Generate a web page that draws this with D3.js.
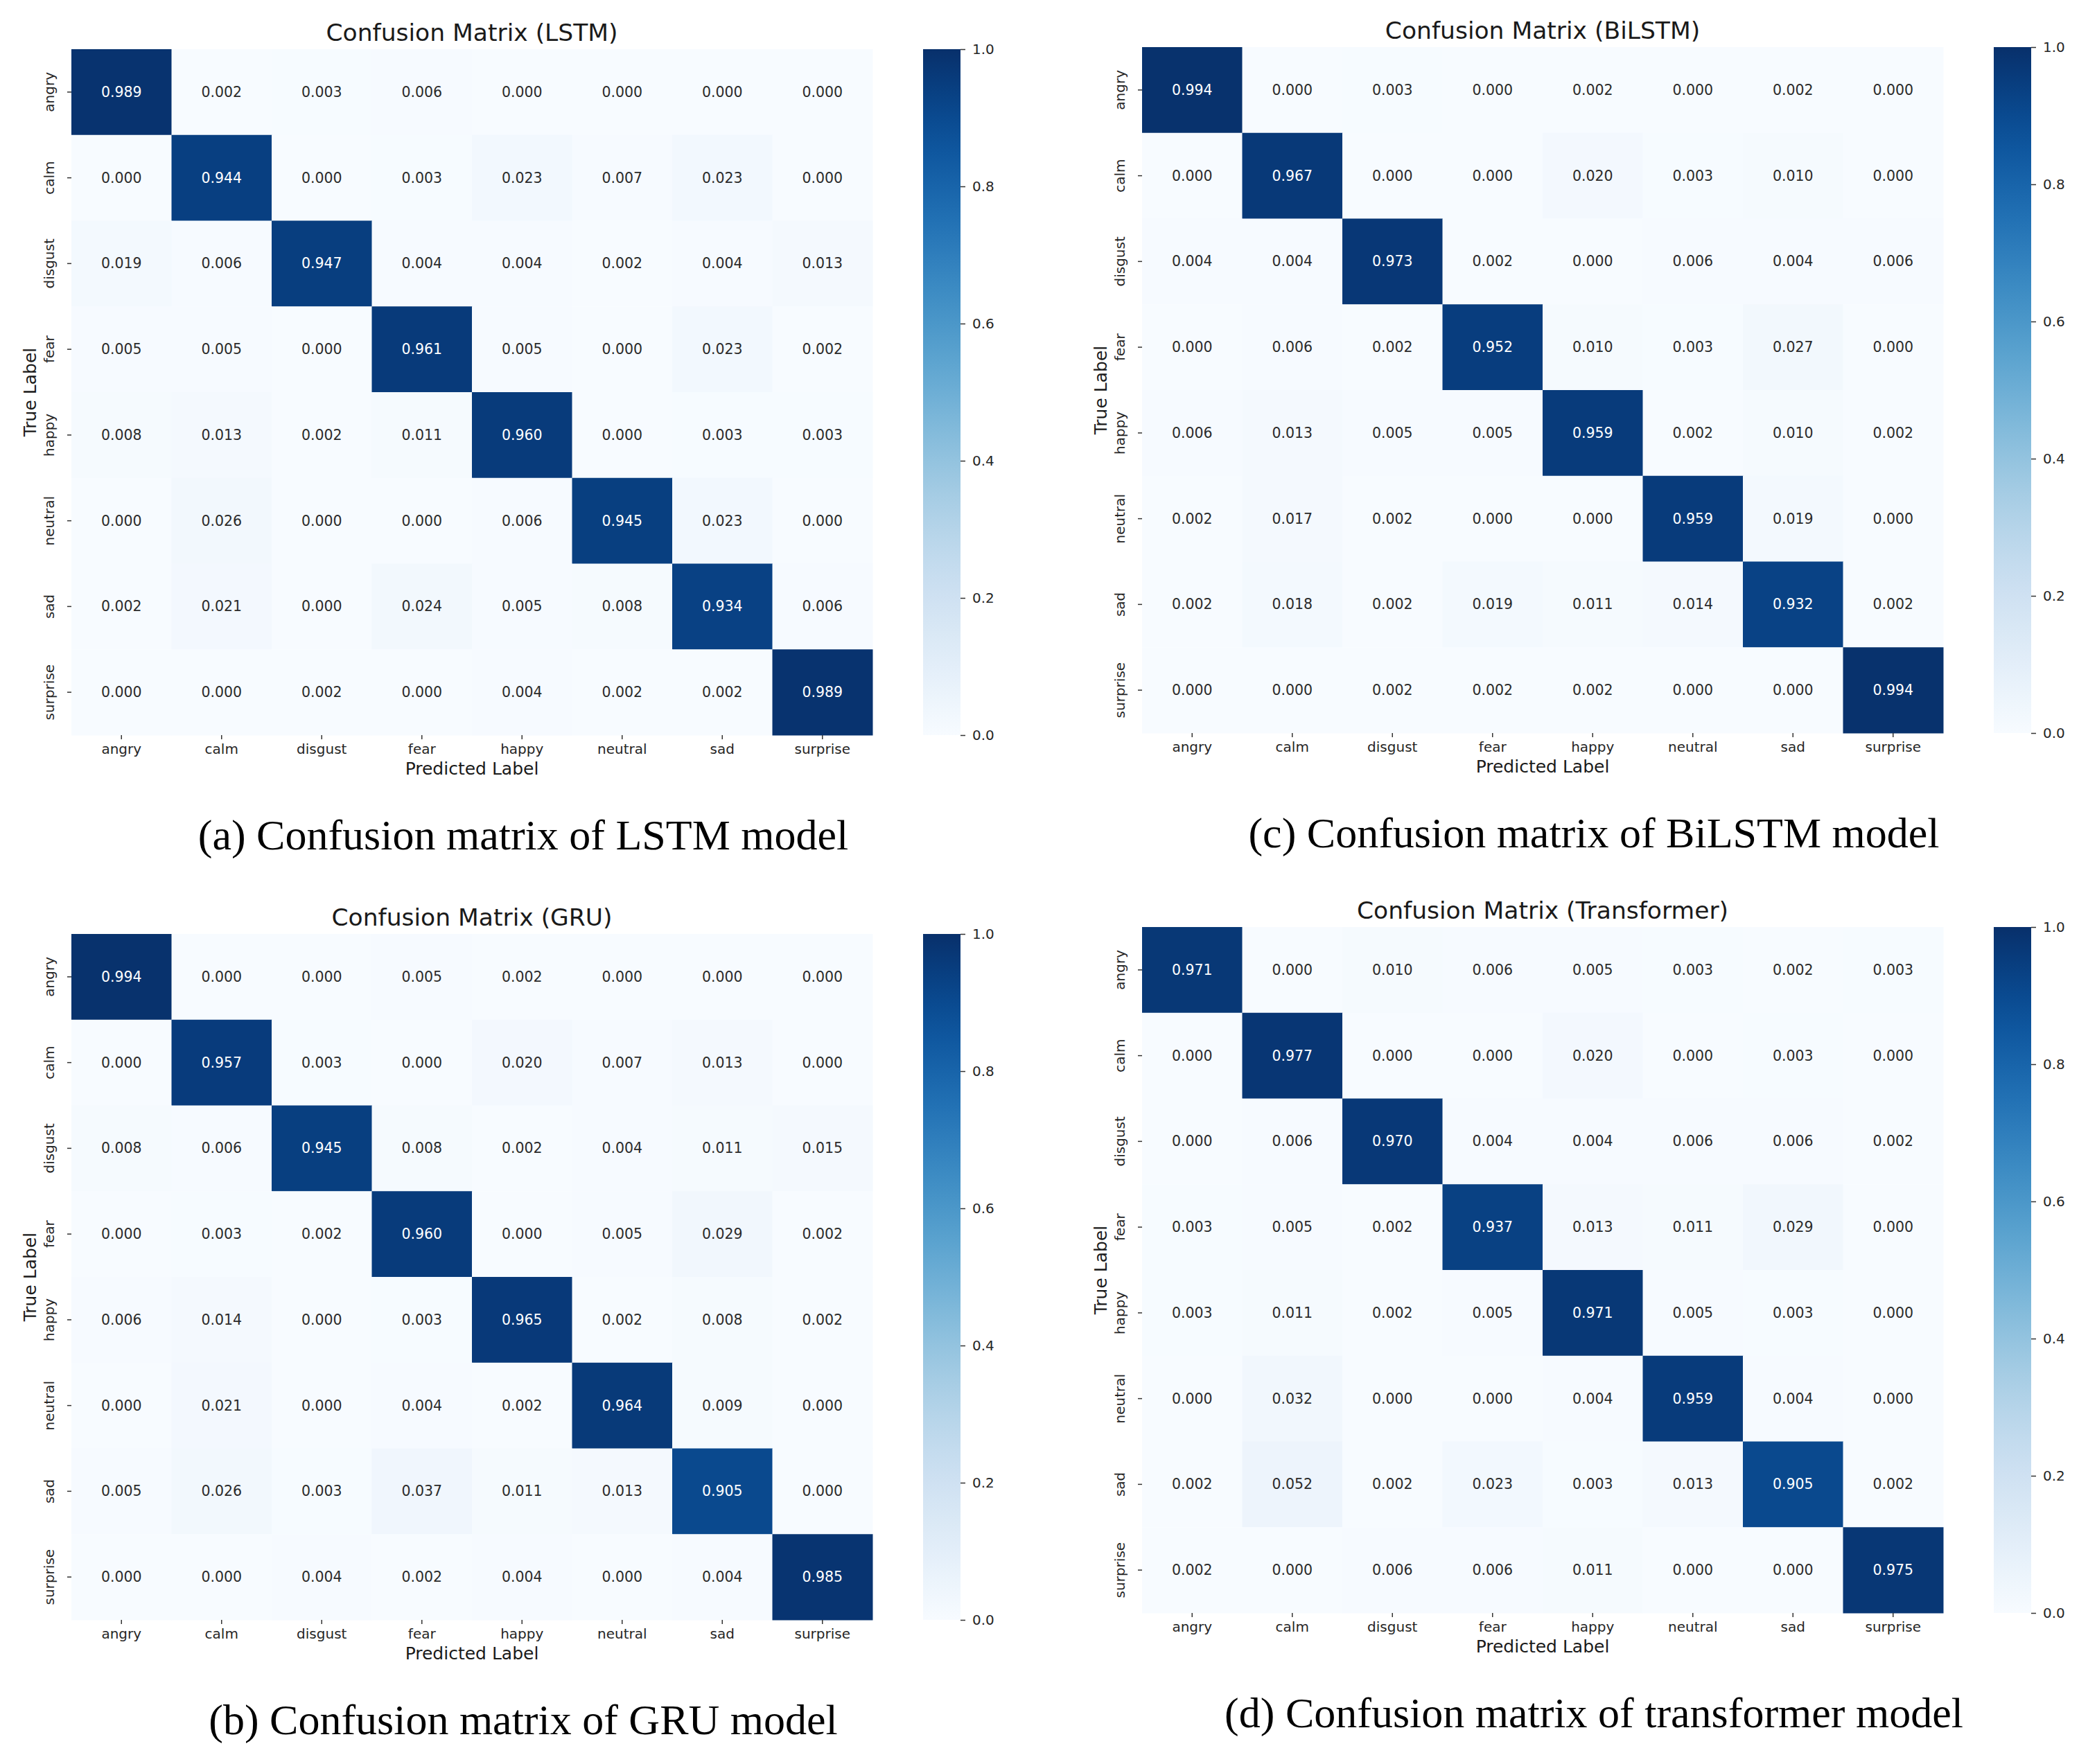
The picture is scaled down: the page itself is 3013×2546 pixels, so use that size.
<!DOCTYPE html>
<html>
<head>
<meta charset="utf-8">
<script src="https://cdn.jsdelivr.net/npm/d3@7"></script>
<style>
  body { margin: 0; background: #fff; }
  text { font-family: 'DejaVu Sans', sans-serif; }
  .caption { font-family: 'Liberation Serif', 'Times New Roman', serif; }
</style>
</head>
<body>
<svg id="fig" width="3013" height="2546"></svg>
<script>

var labels = ['angry', 'calm', 'disgust', 'fear', 'happy', 'neutral', 'sad', 'surprise'];

var lstm = [
  [0.989, 0.002, 0.003, 0.006, 0.000, 0.000, 0.000, 0.000],
  [0.000, 0.944, 0.000, 0.003, 0.023, 0.007, 0.023, 0.000],
  [0.019, 0.006, 0.947, 0.004, 0.004, 0.002, 0.004, 0.013],
  [0.005, 0.005, 0.000, 0.961, 0.005, 0.000, 0.023, 0.002],
  [0.008, 0.013, 0.002, 0.011, 0.960, 0.000, 0.003, 0.003],
  [0.000, 0.026, 0.000, 0.000, 0.006, 0.945, 0.023, 0.000],
  [0.002, 0.021, 0.000, 0.024, 0.005, 0.008, 0.934, 0.006],
  [0.000, 0.000, 0.002, 0.000, 0.004, 0.002, 0.002, 0.989]
];

var gru = [
  [0.994, 0.000, 0.000, 0.005, 0.002, 0.000, 0.000, 0.000],
  [0.000, 0.957, 0.003, 0.000, 0.020, 0.007, 0.013, 0.000],
  [0.008, 0.006, 0.945, 0.008, 0.002, 0.004, 0.011, 0.015],
  [0.000, 0.003, 0.002, 0.960, 0.000, 0.005, 0.029, 0.002],
  [0.006, 0.014, 0.000, 0.003, 0.965, 0.002, 0.008, 0.002],
  [0.000, 0.021, 0.000, 0.004, 0.002, 0.964, 0.009, 0.000],
  [0.005, 0.026, 0.003, 0.037, 0.011, 0.013, 0.905, 0.000],
  [0.000, 0.000, 0.004, 0.002, 0.004, 0.000, 0.004, 0.985]
];

var bilstm = [
  [0.994, 0.000, 0.003, 0.000, 0.002, 0.000, 0.002, 0.000],
  [0.000, 0.967, 0.000, 0.000, 0.020, 0.003, 0.010, 0.000],
  [0.004, 0.004, 0.973, 0.002, 0.000, 0.006, 0.004, 0.006],
  [0.000, 0.006, 0.002, 0.952, 0.010, 0.003, 0.027, 0.000],
  [0.006, 0.013, 0.005, 0.005, 0.959, 0.002, 0.010, 0.002],
  [0.002, 0.017, 0.002, 0.000, 0.000, 0.959, 0.019, 0.000],
  [0.002, 0.018, 0.002, 0.019, 0.011, 0.014, 0.932, 0.002],
  [0.000, 0.000, 0.002, 0.002, 0.002, 0.000, 0.000, 0.994]
];

var transformer = [
  [0.971, 0.000, 0.010, 0.006, 0.005, 0.003, 0.002, 0.003],
  [0.000, 0.977, 0.000, 0.000, 0.020, 0.000, 0.003, 0.000],
  [0.000, 0.006, 0.970, 0.004, 0.004, 0.006, 0.006, 0.002],
  [0.003, 0.005, 0.002, 0.937, 0.013, 0.011, 0.029, 0.000],
  [0.003, 0.011, 0.002, 0.005, 0.971, 0.005, 0.003, 0.000],
  [0.000, 0.032, 0.000, 0.000, 0.004, 0.959, 0.004, 0.000],
  [0.002, 0.052, 0.002, 0.023, 0.003, 0.013, 0.905, 0.002],
  [0.002, 0.000, 0.006, 0.006, 0.011, 0.000, 0.000, 0.975]
];

var colorbarTicks = [0.0, 0.2, 0.4, 0.6, 0.8, 1.0];

var titles = ['Confusion Matrix (LSTM)', 'Confusion Matrix (GRU)', 'Confusion Matrix (BiLSTM)', 'Confusion Matrix (Transformer)'];
var captions = ['(a) Confusion matrix of LSTM model', '(b) Confusion matrix of GRU model',
                '(c) Confusion matrix of BiLSTM model', '(d) Confusion matrix of transformer model'];
var matrices = [lstm, gru, bilstm, transformer];

// layout (top-left corner of each heatmap)
var origins = [[103, 71], [103, 1348], [1648, 68], [1648, 1338]];
var W = 1156, H = 990;
var cbX = 1229, cbW = 54;

var svg = d3.select('#fig');
var color = d3.scaleSequential(d3.interpolateBlues).domain([0, 1]);

// gradient for the colorbars
var grad = svg.append('defs').append('linearGradient')
    .attr('id', 'blues').attr('x1', 0).attr('y1', 1).attr('x2', 0).attr('y2', 0);
d3.range(0, 1.0001, 0.05).forEach(t => {
  grad.append('stop').attr('offset', t).attr('stop-color', color(t));
});

function textColor(v)
{
  var c = d3.rgb(color(v));
  var lum = [c.r, c.g, c.b].map(u => {
    u = u / 255;
    return u <= 0.03928 ? u / 12.92 : Math.pow((u + 0.055) / 1.055, 2.4);
  });
  var l = 0.2126 * lum[0] + 0.7152 * lum[1] + 0.0722 * lum[2];
  return l > 0.408 ? '#2b2b2b' : '#ffffff';
}

function drawPanel(i)
{
  var m = matrices[i];
  var g = svg.append('g').attr('transform', 'translate(' + origins[i][0] + ',' + origins[i][1] + ')');

  var x = d3.scaleBand().domain(labels).range([0, W]);
  var y = d3.scaleBand().domain(labels).range([0, H]);

  var cells = [];
  m.forEach((row, r) => row.forEach((v, c) => cells.push({row: labels[r], col: labels[c], v: v})));

  g.selectAll('rect.cell')
    .data(cells)
    .enter()
    .append('rect')
    .attr('class', 'cell')
    .attr('x', d => x(d.col))
    .attr('y', d => y(d.row))
    .attr('width', x.bandwidth() + 0.5)
    .attr('height', y.bandwidth() + 0.5)
    .attr('fill', d => color(d.v));

  g.selectAll('text.annot')
    .data(cells)
    .enter()
    .append('text')
    .attr('class', 'annot')
    .attr('x', d => x(d.col) + x.bandwidth() / 2)
    .attr('y', d => y(d.row) + y.bandwidth() / 2)
    .attr('text-anchor', 'middle')
    .attr('dominant-baseline', 'central')
    .attr('font-size', 20.5)
    .attr('fill', d => textColor(d.v))
    .text(d => d.v.toFixed(3));

  // x axis
  var xa = g.append('g')
    .attr('transform', 'translate(0,' + H + ')')
    .call(d3.axisBottom(x).tickSize(6).tickPadding(7));
  xa.select('.domain').remove();
  xa.selectAll('line').attr('stroke', '#333').attr('stroke-width', 1.5);
  xa.selectAll('text').attr('font-size', 20).attr('fill', '#262626').attr('font-family', 'DejaVu Sans');

  // y axis, labels rotated
  var ya = g.append('g').call(d3.axisLeft(y).tickSize(6));
  ya.select('.domain').remove();
  ya.selectAll('line').attr('stroke', '#333').attr('stroke-width', 1.5);
  ya.selectAll('text')
    .attr('x', null).attr('dy', null)
    .attr('transform', 'translate(-25,0) rotate(-90)')
    .attr('text-anchor', 'middle')
    .attr('font-size', 20).attr('fill', '#262626').attr('font-family', 'DejaVu Sans');

  // axis titles
  g.append('text')
    .attr('x', W / 2).attr('y', 1047)
    .attr('text-anchor', 'middle')
    .attr('font-size', 25).attr('fill', '#1a1a1a')
    .text('Predicted Label');

  g.append('text')
    .attr('transform', 'translate(-51,' + (H / 2) + ') rotate(-90)')
    .attr('text-anchor', 'middle')
    .attr('font-size', 25).attr('fill', '#1a1a1a')
    .text('True Label');

  // title
  g.append('text')
    .attr('x', W / 2).attr('y', -12)
    .attr('text-anchor', 'middle')
    .attr('font-size', 34.5).attr('fill', '#1a1a1a')
    .text(titles[i]);

  // colorbar
  var cb = g.append('g').attr('transform', 'translate(' + cbX + ',0)');
  cb.append('rect').attr('width', cbW).attr('height', H).attr('fill', 'url(#blues)');
  var cs = d3.scaleLinear().domain([0, 1]).range([H, 0]);
  var ca = cb.append('g')
    .attr('transform', 'translate(' + cbW + ',0)')
    .call(d3.axisRight(cs).tickValues(colorbarTicks).tickFormat(d3.format('.1f')).tickSize(7).tickPadding(10));
  ca.select('.domain').remove();
  ca.selectAll('line').attr('stroke', '#333').attr('stroke-width', 1.5);
  ca.selectAll('text').attr('font-size', 20).attr('fill', '#262626').attr('font-family', 'DejaVu Sans');

  // caption under the panel
  g.append('text')
    .attr('class', 'caption')
    .attr('x', 652).attr('y', 1155)
    .attr('text-anchor', 'middle')
    .attr('font-size', 62).attr('fill', '#000')
    .text(captions[i]);
}

d3.range(4).forEach(drawPanel);

</script>
</body>
</html>
